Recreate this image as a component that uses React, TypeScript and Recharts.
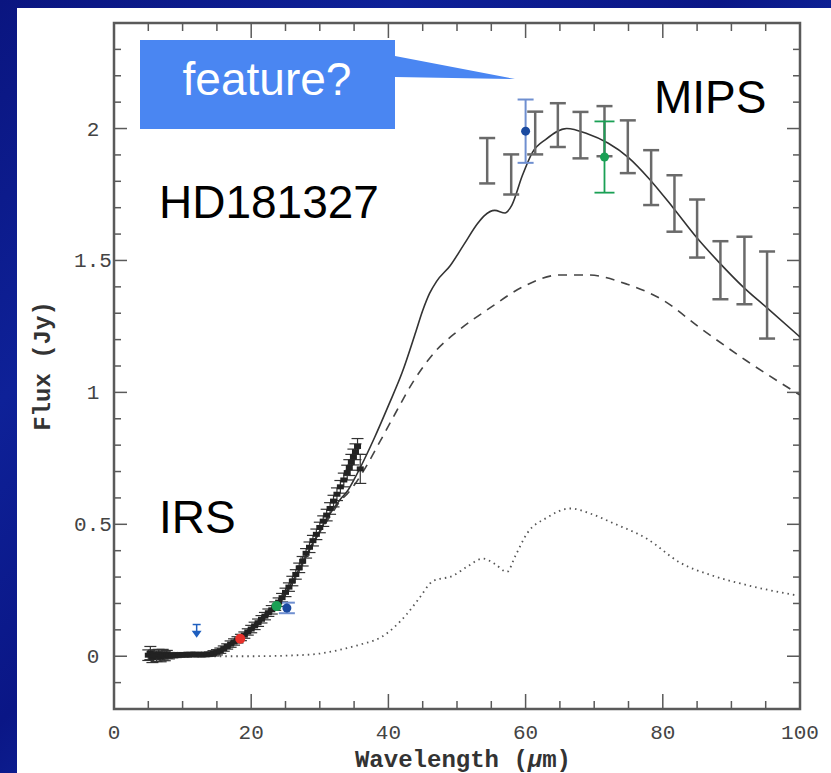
import React from 'react';
import {
  ComposedChart,
  Line,
  Scatter,
  ErrorBar,
  XAxis,
  YAxis,
  ReferenceArea,
} from 'recharts';

// model curves (wavelength in micron, flux in Jy)
const totalWave = [5, 10, 14, 15, 16, 17, 18, 19, 20, 21, 22, 23, 24, 25, 26, 27, 28, 29, 30, 31, 32, 33, 34, 35, 36, 38, 40, 42, 44, 45, 46, 47, 49, 51, 53, 54, 55.5, 57, 58, 59.5, 61, 63, 66, 69, 72, 75, 78, 81.5, 85, 88.3, 91.7, 95.2, 100];
const totalFlux = [0.004, 0.005, 0.007, 0.013, 0.027, 0.044, 0.061, 0.079, 0.101, 0.125, 0.15, 0.175, 0.203, 0.24, 0.283, 0.33, 0.38, 0.43, 0.475, 0.52, 0.56, 0.595, 0.625, 0.67, 0.72, 0.83, 0.95, 1.075, 1.23, 1.31, 1.375, 1.42, 1.48, 1.56, 1.64, 1.67, 1.69, 1.68, 1.71, 1.82, 1.91, 1.96, 2.0, 1.98, 1.945, 1.89, 1.81, 1.7, 1.585, 1.49, 1.4, 1.32, 1.21];

const warmWave = [5, 10, 14, 16, 18, 20, 22, 24, 26, 28, 30, 32, 33, 34, 35, 37, 38.8, 41, 43.6, 47, 50, 54.8, 59.6, 65, 69, 74.8, 80, 85.4, 92.2, 100];
const warmFlux = [0.004, 0.005, 0.007, 0.027, 0.061, 0.101, 0.15, 0.203, 0.283, 0.38, 0.47, 0.55, 0.59, 0.615, 0.648, 0.73, 0.815, 0.92, 1.04, 1.16, 1.23, 1.32, 1.4, 1.445, 1.445, 1.41, 1.35, 1.245, 1.12, 0.99];

const coldWave = [5, 14, 20, 26, 30, 33, 36, 38.8, 42.7, 44.5, 46.5, 49.4, 51.5, 53.8, 55.5, 57.3, 58.5, 60.2, 63.1, 66.5, 69.5, 72.7, 77.7, 82.5, 87.3, 92.2, 99.6];
const coldFlux = [0, 0, 0, 0.003, 0.01, 0.025, 0.045, 0.07, 0.16, 0.22, 0.285, 0.305, 0.34, 0.37, 0.35, 0.32, 0.38, 0.465, 0.525, 0.56, 0.54, 0.505, 0.445, 0.355, 0.305, 0.27, 0.23];

// IRS spectrum
const irsWave = [5.0, 5.3, 5.6, 5.9, 6.2, 6.5, 6.8, 7.1, 7.4, 7.7, 8.0, 8.5, 9.0, 9.5, 10, 10.5, 11, 11.5, 12, 12.5, 13, 13.5, 14, 14.5, 15, 15.5, 16, 16.5, 17, 17.5, 18, 18.5, 19, 19.5, 20, 20.5, 21, 21.5, 22, 22.5, 23, 23.5, 24, 24.5, 25, 25.5, 26, 26.5, 27, 27.5, 28, 28.5, 29, 29.5, 30, 30.5, 31, 31.5, 32, 32.5, 33, 33.5, 34, 34.3, 34.6, 34.9, 35.2, 35.5, 35.9];
const irsFlux = [0.004, 0.012, -0.004, 0.006, 0.0, 0.008, -0.003, 0.006, 0.001, 0.007, 0.002, 0.004, 0.003, 0.005, 0.006, 0.005, 0.007, 0.006, 0.007, 0.006, 0.006, 0.007, 0.008, 0.011, 0.015, 0.021, 0.029, 0.037, 0.046, 0.054, 0.062, 0.071, 0.08, 0.092, 0.103, 0.115, 0.127, 0.14, 0.152, 0.165, 0.176, 0.19, 0.205, 0.222, 0.242, 0.262, 0.285, 0.31, 0.335, 0.36, 0.39, 0.413, 0.438, 0.462, 0.488, 0.512, 0.535, 0.56, 0.588, 0.614, 0.642, 0.668, 0.696, 0.715, 0.735, 0.755, 0.775, 0.795, 0.71];
const irsErr = [0.02, 0.025, 0.02, 0.018, 0.02, 0.018, 0.018, 0.02, 0.018, 0.015, 0.012, 0.01, 0.008, 0.008, 0.008, 0.008, 0.008, 0.008, 0.008, 0.008, 0.008, 0.008, 0.008, 0.01, 0.01, 0.01, 0.01, 0.01, 0.012, 0.012, 0.012, 0.012, 0.012, 0.012, 0.014, 0.014, 0.014, 0.014, 0.014, 0.014, 0.016, 0.016, 0.016, 0.016, 0.016, 0.016, 0.018, 0.018, 0.018, 0.018, 0.018, 0.02, 0.02, 0.02, 0.02, 0.02, 0.022, 0.022, 0.022, 0.024, 0.024, 0.026, 0.028, 0.03, 0.03, 0.03, 0.03, 0.03, 0.055];

// MIPS SED points
const sedWave = [54.4, 57.9, 61.4, 64.7, 68.0, 71.5, 74.9, 78.3, 81.7, 85.0, 88.4, 91.9, 95.2];
const sedFlux = [1.878, 1.826, 1.983, 2.013, 1.975, 1.99, 1.931, 1.814, 1.716, 1.621, 1.463, 1.462, 1.369];
const sedErr = [0.086, 0.076, 0.081, 0.083, 0.088, 0.095, 0.1, 0.104, 0.107, 0.11, 0.11, 0.128, 0.165];

// photometry
const mips24 = [{ x: 23.7, y: 0.19, err: 0 }];
const mips70 = [{ x: 71.5, y: 1.892, err: 0.135 }];
const iras = [{ x: 25.2, y: 0.183, err: 0.02 }, { x: 60.0, y: 1.99, err: 0.12 }];
const red18 = [{ x: 18.4, y: 0.066 }];
const iras12Limit = [{ x: 12.05, y: 0.105 }];

const xTicks = [0, 5, 10, 15, 20, 25, 30, 35, 40, 45, 50, 55, 60, 65, 70, 75, 80, 85, 90, 95, 100];
const yTicks = [-0.2, -0.1, 0, 0.1, 0.2, 0.3, 0.4, 0.5, 0.6, 0.7, 0.8, 0.9, 1, 1.1, 1.2, 1.3, 1.4, 1.5, 1.6, 1.7, 1.8, 1.9, 2, 2.1, 2.2, 2.3, 2.4];
const yLabels: Record<string, string> = { '0': '0', '0.5': '0.5', '1': '1', '1.5': '1.5', '2': '2' };

const zip = (xs: number[], ys: number[], es?: number[]) =>
  xs.map((x, i) => ({ x, y: ys[i], err: es ? es[i] : 0 }));

const totalData = zip(totalWave, totalFlux);
const warmData = zip(warmWave, warmFlux);
const coldData = zip(coldWave, coldFlux);
const irsData = zip(irsWave, irsFlux, irsErr);
const sedData = zip(sedWave, sedFlux, sedErr);

const W = 831;
const H = 773;
const PLOT_TOP = 23;
const PLOT_BOTTOM = 709;
const PLOT_LEFT = 114;
const PLOT_RIGHT = 800;
const FRAME = '#5a5a5a';
const TICK_FONT = '"Liberation Mono", monospace';

const XTick = (props: any) => {
  const { x, payload } = props;
  const v = payload.value;
  const major = v % 20 === 0;
  const len = major ? 15 : 8;
  return (
    <g>
      <line x1={x} x2={x} y1={PLOT_BOTTOM} y2={PLOT_BOTTOM - len} stroke={FRAME} strokeWidth={1.5} />
      <line x1={x} x2={x} y1={PLOT_TOP} y2={PLOT_TOP + len} stroke={FRAME} strokeWidth={1.5} />
      {major && (
        <text x={x} y={PLOT_BOTTOM + 30} textAnchor="middle" fontSize={21} fill="#444" fontFamily={TICK_FONT}>
          {v}
        </text>
      )}
    </g>
  );
};

const YTick = (props: any) => {
  const { y, payload } = props;
  const v = payload.value;
  const key = String(Math.round(v * 10) / 10);
  const label = yLabels[key];
  const len = label !== undefined ? 13 : 7;
  return (
    <g>
      <line x1={PLOT_LEFT} x2={PLOT_LEFT + len} y1={y} y2={y} stroke={FRAME} strokeWidth={1.5} />
      <line x1={PLOT_RIGHT} x2={PLOT_RIGHT - len} y1={y} y2={y} stroke={FRAME} strokeWidth={1.5} />
      {label !== undefined && (
        <text x={93} y={y + 7} textAnchor="middle" fontSize={21} fill="#444" fontFamily={TICK_FONT}>
          {label}
        </text>
      )}
    </g>
  );
};

const XTitle = (props: any) => {
  const vb = props.viewBox || { x: PLOT_LEFT, width: PLOT_RIGHT - PLOT_LEFT };
  return (
    <text x={vb.x + vb.width / 2 + 6} y={H - 6} textAnchor="middle" fontSize={24} fontWeight="bold" fill="#333" fontFamily={TICK_FONT}>
      Wavelength (<tspan fontStyle="italic">μ</tspan>m)
    </text>
  );
};

const YTitle = () => (
  <text x={50} y={366} transform="rotate(-90 50 366)" textAnchor="middle" fontSize={24} fontWeight="bold" fill="#333" fontFamily={TICK_FONT}>
    Flux (Jy)
  </text>
);

const IrsMark = (p: any) => <rect x={p.cx - 3.5} y={p.cy - 2.5} width={7} height={5} fill="#222" />;
const NoMark = () => <g />;
const dot = (fill: string, r: number) => (p: any) => <circle cx={p.cx} cy={p.cy} r={r} fill={fill} />;
const LimitArrow = (p: any) => (
  <g stroke="#1f5fbf" fill="#1f5fbf" strokeWidth={1.5}>
    <line x1={p.cx - 4} x2={p.cx + 4} y1={p.cy - 4} y2={p.cy - 4} />
    <line x1={p.cx} x2={p.cx} y1={p.cy - 4} y2={p.cy + 4} />
    <path d={`M${p.cx - 3.5},${p.cy + 3} L${p.cx + 3.5},${p.cy + 3} L${p.cx},${p.cy + 8} Z`} />
  </g>
);

export default function App() {
  return (
    <div
      style={{
        position: 'absolute',
        left: 0,
        top: 0,
        width: W,
        height: H,
        overflow: 'hidden',
        background: 'linear-gradient(135deg, #0a1580 0%, #0e2198 25%, #0a1686 45%, #1232aa 65%, #0a1684 85%, #0c1c92 100%)',
      }}
    >
      <div style={{ position: 'absolute', left: 17, top: 8, width: W - 17, height: H - 8, background: '#fff' }} />
      <div style={{ position: 'absolute', left: 0, top: 0 }}>
        <ComposedChart width={W} height={H} margin={{ top: PLOT_TOP, right: W - PLOT_RIGHT, bottom: 0, left: 0 }}>
          <XAxis
            type="number"
            dataKey="x"
            domain={[0, 100]}
            ticks={xTicks}
            interval={0}
            tick={<XTick />}
            tickLine={false}
            axisLine={false}
            height={H - PLOT_BOTTOM}
            allowDataOverflow
            label={<XTitle />}
          />
          <YAxis
            type="number"
            domain={[-0.2, 2.4]}
            ticks={yTicks}
            interval={0}
            tick={<YTick />}
            tickLine={false}
            axisLine={false}
            width={PLOT_LEFT}
            allowDataOverflow
            label={<YTitle />}
          />
          <ReferenceArea x1={0} x2={100} y1={-0.2} y2={2.4} fill="none" stroke={FRAME} strokeWidth={2.5} ifOverflow="visible" />
          <Line data={coldData} dataKey="y" type="monotone" stroke="#555" strokeWidth={1.8} strokeDasharray="1.5 4" dot={false} isAnimationActive={false} />
          <Line data={warmData} dataKey="y" type="monotone" stroke="#444" strokeWidth={1.6} strokeDasharray="9 7" dot={false} isAnimationActive={false} />
          <Line data={totalData} dataKey="y" type="monotone" stroke="#333" strokeWidth={1.6} dot={false} isAnimationActive={false} />
          <Scatter data={irsData} dataKey="y" shape={IrsMark} isAnimationActive={false}>
            <ErrorBar dataKey="err" direction="y" width={6} stroke="#333" strokeWidth={1.2} />
          </Scatter>
          <Scatter data={sedData} dataKey="y" shape={NoMark} isAnimationActive={false}>
            <ErrorBar dataKey="err" direction="y" width={8} stroke="#6a6a6a" strokeWidth={2.5} />
          </Scatter>
          <Scatter data={iras} dataKey="y" shape={dot('#1a4aa0', 4.5)} isAnimationActive={false}>
            <ErrorBar dataKey="err" direction="y" width={8} stroke="#6f8fd0" strokeWidth={2} />
          </Scatter>
          <Scatter data={mips70} dataKey="y" shape={dot('#1aa055', 4.5)} isAnimationActive={false}>
            <ErrorBar dataKey="err" direction="y" width={10} stroke="#1aa055" strokeWidth={1.8} />
          </Scatter>
          <Scatter data={mips24} dataKey="y" shape={dot('#1aa055', 5)} isAnimationActive={false} />
          <Scatter data={red18} dataKey="y" shape={dot('#e8302a', 5)} isAnimationActive={false} />
          <Scatter data={iras12Limit} dataKey="y" shape={LimitArrow} isAnimationActive={false} />
        </ComposedChart>
      </div>
      <svg width={W} height={H} style={{ position: 'absolute', left: 0, top: 0, pointerEvents: 'none' }}>
        <path d="M140,40 L395,40 L395,56 L515,79 L395,77 L395,129 L140,129 Z" fill="#4a86f2" />
        <text x={267} y={95} textAnchor="middle" fontSize={46} fill="#fff" fontFamily='"Liberation Sans", Arial, sans-serif'>
          feature?
        </text>
        <g fontFamily='"Liberation Sans", Arial, sans-serif' fontSize={46} fill="#000">
          <text x={654} y={113}>MIPS</text>
          <text x={159} y={218}>HD181327</text>
          <text x={159} y={533}>IRS</text>
        </g>
      </svg>
    </div>
  );
}
